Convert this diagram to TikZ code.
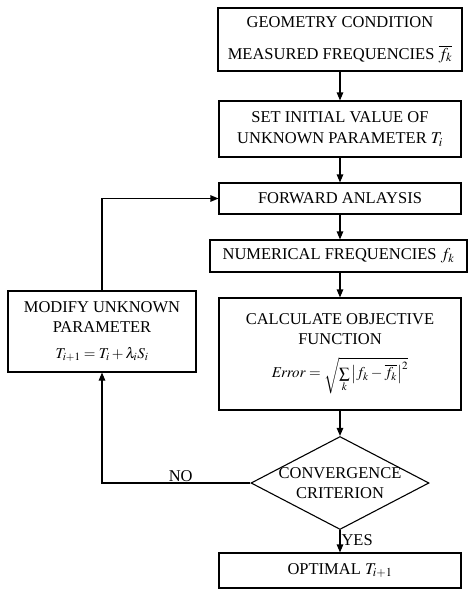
\documentclass[tikz,border=0pt]{standalone}
\usepackage{mathptmx}
\usepackage{fontspec}
\setmainfont{Liberation Serif}
\usetikzlibrary{arrows.meta,shapes.geometric}
\begin{document}
\begin{tikzpicture}[x=1pt,y=-1pt,
  box/.style={draw, line width=1.1pt, rectangle, inner sep=0pt, align=center,
    font=\fontsize{16.5}{20}\selectfont},
  txt/.style={inner sep=1pt, align=center, font=\fontsize{16.5}{20}\selectfont},
  flow/.style={line width=1.1pt, -{Triangle[length=8pt,width=6.5pt]}},
  ]
\useasboundingbox (0,0) rectangle (468,589);

% main column of process boxes
\node[box, minimum width=244pt, minimum height=63pt] (geo) at (340,39.5)
  {GEOMETRY CONDITION\\[12pt] MEASURED FREQUENCIES $\overline{f_k}$};
\node[box, minimum width=242pt, minimum height=56pt] (init) at (340,129)
  {SET INITIAL VALUE OF\\[1pt] UNKNOWN PARAMETER $T_i$};
\node[box, minimum width=242pt, minimum height=31pt] (fwd) at (340,198.5)
  {FORWARD ANLAYSIS};
\node[box, minimum width=257pt, minimum height=32pt] (num) at (338.5,256)
  {NUMERICAL FREQUENCIES $f_k$};
\node[box, minimum width=242pt, minimum height=112pt] (calc) at (340,354)
  {CALCULATE OBJECTIVE\\ FUNCTION\\[12pt]
   {\fontsize{15}{18}\selectfont
   $\mathit{Error}=\sqrt{\sum\limits_k\left|f_k-\overline{f_k}\right|^2}$}};

% decision
\node[diamond, draw, line width=1.1pt, minimum width=178pt, minimum height=93pt,
  inner sep=0pt] (conv) at (340,483) {};
\node[txt] (convtext) at (conv.center) {CONVERGENCE\\ CRITERION};

% result
\node[box, minimum width=242pt, minimum height=35pt] (opt) at (340,570.5)
  {OPTIMAL $T_{i+1}$};

% update step on the left
\node[box, minimum width=188pt, minimum height=81pt] (mod) at (102,331.5)
  {MODIFY UNKNOWN\\ PARAMETER\\[6pt]
   {\fontsize{15}{18}\selectfont $T_{i+1}=T_i+\lambda_i S_i$}};

% flow connectors
\draw[flow] (geo.south) -- (init.north);
\draw[flow] (init.south) -- (fwd.north);
\draw[flow] (fwd.south) -- (fwd.south |- num.north);
\draw[flow] (fwd.south |- num.south) -- (calc.north);
\draw[flow] (calc.south) -- (conv.north);
\draw[flow] (conv.south) -- node[txt, right, pos=0.45] (yes) {YES} (opt.north);
\draw[flow] (conv.west) -- node[txt, above, pos=0.47] (no) {NO}
  (conv.west -| mod.south) -- (mod.south);
\draw[flow] (mod.north) -- (mod.north |- fwd.west) -- (fwd.west);
\end{tikzpicture}
\end{document}
